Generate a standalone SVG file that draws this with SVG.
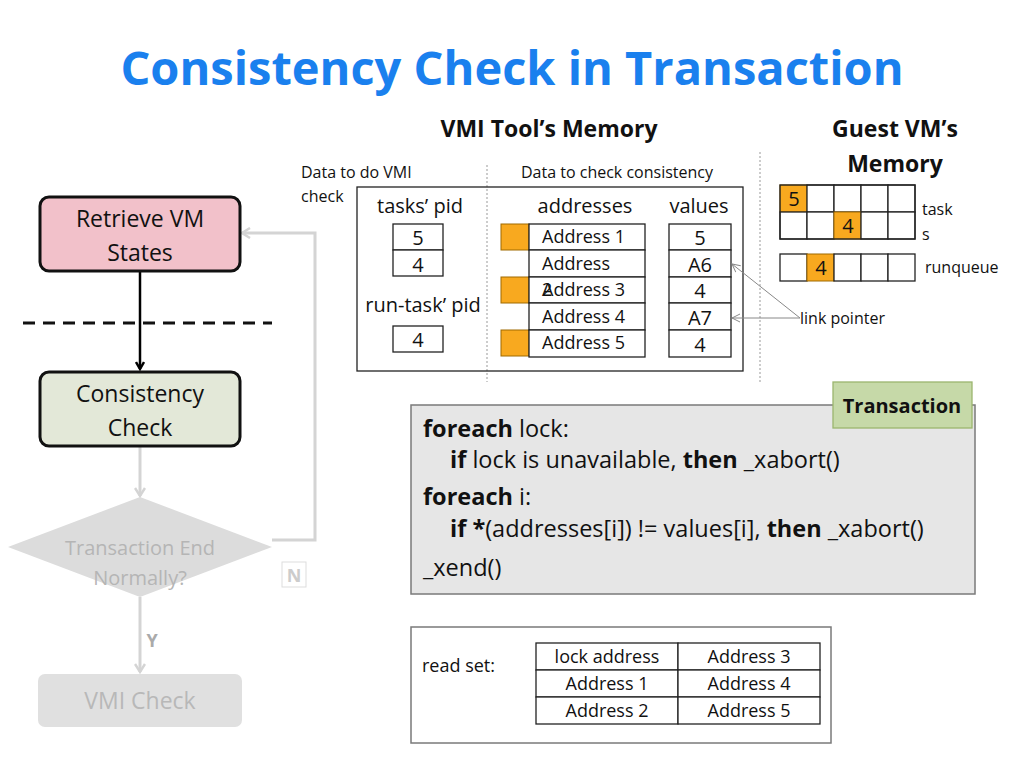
<svg xmlns="http://www.w3.org/2000/svg" width="1024" height="768" viewBox="0 0 1024 768">
<style>
text{font-family:"Open Sans","Liberation Sans",sans-serif;fill:#111}
.c{text-anchor:middle}
.cell{fill:#fff;stroke:#222;stroke-width:1.3}
.or{fill:#f8a91f;stroke:#a06a00;stroke-width:1}
.b{font-weight:bold}
.t18{font-size:18px}.t20{font-size:20px}.t22{font-size:22px}.t16{font-size:16px}.code{font-size:23.5px}
</style>
<defs>
<marker id="ab" markerWidth="10" markerHeight="10" refX="8" refY="5" orient="auto" markerUnits="userSpaceOnUse"><path d="M1,1 L8,5 L1,9" fill="none" stroke="#000" stroke-width="2.5"/></marker>
<marker id="ag" markerWidth="12" markerHeight="12" refX="9" refY="6" orient="auto" markerUnits="userSpaceOnUse"><path d="M1,1 L9,6 L1,11" fill="none" stroke="#d4d4d4" stroke-width="2.5"/></marker>
<marker id="at" markerWidth="10" markerHeight="10" refX="9" refY="5" orient="auto" markerUnits="userSpaceOnUse"><path d="M1,1 L9,5 L1,9" fill="none" stroke="#888" stroke-width="1"/></marker>
</defs>
<rect width="1024" height="768" fill="#fff"/>
<text x="512" y="85" class="c b" style="font-size:47px;fill:#1a80ee">Consistency Check in Transaction</text>
<text x="549" y="137" class="c b" style="font-size:23px">VMI Tool’s Memory</text>
<text x="895" y="137" class="c b" style="font-size:23px">Guest VM’s</text>
<text x="895" y="172" class="c b" style="font-size:23px">Memory</text>

<g id="vmi-memory">
<line x1="487" y1="165" x2="487" y2="382" stroke="#999" stroke-dasharray="2,2"/>
<line x1="760" y1="152" x2="760" y2="382" stroke="#999" stroke-dasharray="2,2"/>
<text x="301" y="178" class="t16">Data to do VMI</text>
<text x="301" y="202" class="t16">check</text>
<text x="617" y="178" class="c t16">Data to check consistency</text>
<rect x="357" y="187" width="386" height="184" fill="none" stroke="#222" stroke-width="1.3"/>
<text x="420" y="213" class="c t20">tasks’ pid</text>
<rect class="cell" x="393" y="224" width="50" height="26"/><text x="418" y="245" class="c t20">5</text>
<rect class="cell" x="393" y="250" width="50" height="26"/><text x="418" y="272" class="c t20">4</text>
<text x="423" y="312" class="c t20">run-task’ pid</text>
<rect class="cell" x="393" y="326" width="50" height="26"/><text x="418" y="347" class="c t20">4</text>
<text x="585" y="213" class="c t20">addresses</text>
<text x="699" y="213" class="c t20">values</text>
<rect class="or" x="501" y="224" width="28" height="26"/>
<rect class="or" x="501" y="277" width="28" height="26"/>
<rect class="or" x="501" y="330" width="28" height="26"/>
<rect class="cell" x="529" y="224" width="116" height="26"/><text x="542" y="243" class="t18">Address 1</text>
<rect class="cell" x="529" y="250" width="116" height="27"/><text x="542" y="270" class="t18">Address</text>
<rect class="cell" x="529" y="277" width="116" height="26"/><text x="542" y="296" class="t18">Address 3</text><text x="542" y="296" class="t18">2</text>
<rect class="cell" x="529" y="303" width="116" height="27"/><text x="542" y="323" class="t18">Address 4</text>
<rect class="cell" x="529" y="330" width="116" height="27"/><text x="542" y="349" class="t18">Address 5</text>
<rect class="cell" x="669" y="224" width="62" height="26"/><text x="700" y="245" class="c t20">5</text>
<rect class="cell" x="669" y="250" width="62" height="27"/><text x="700" y="272" class="c t20">A6</text>
<rect class="cell" x="669" y="277" width="62" height="26"/><text x="700" y="298" class="c t20">4</text>
<rect class="cell" x="669" y="303" width="62" height="27"/><text x="700" y="325" class="c t20">A7</text>
<rect class="cell" x="669" y="330" width="62" height="27"/><text x="700" y="352" class="c t20">4</text>
</g>

<g id="guest-memory">
<rect class="or" x="780" y="185" width="27" height="27"/>
<rect class="cell" x="807" y="185" width="27" height="27"/><rect class="cell" x="834" y="185" width="27" height="27"/><rect class="cell" x="861" y="185" width="27" height="27"/><rect class="cell" x="888" y="185" width="27" height="27"/>
<rect class="cell" x="780" y="212" width="27" height="27"/><rect class="cell" x="807" y="212" width="27" height="27"/>
<rect class="or" x="834" y="212" width="27" height="27"/>
<rect class="cell" x="861" y="212" width="27" height="27"/><rect class="cell" x="888" y="212" width="27" height="27"/>
<rect x="780" y="185" width="135" height="54" fill="none" stroke="#222" stroke-width="1.3"/>
<text x="794" y="206" class="c t20">5</text><text x="848" y="233" class="c t20">4</text>
<text x="922" y="215" class="t16">task</text><text x="922" y="240" class="t16">s</text>
<rect class="cell" x="780" y="254" width="27" height="27"/>
<rect class="or" x="807" y="254" width="27" height="27"/>
<rect class="cell" x="834" y="254" width="27" height="27"/><rect class="cell" x="861" y="254" width="27" height="27"/><rect class="cell" x="888" y="254" width="27" height="27"/>
<text x="821" y="275" class="c t20">4</text>
<text x="925" y="273" class="t16">runqueue</text>
<text x="800" y="324" class="t16">link pointer</text>
</g>

<g id="connectors">
<line x1="800" y1="318" x2="732" y2="264" stroke="#888" marker-end="url(#at)"/>
<line x1="800" y1="318" x2="732" y2="318" stroke="#888" marker-end="url(#at)"/>
<line x1="140" y1="271" x2="140" y2="369" stroke="#000" stroke-width="2.5" marker-end="url(#ab)"/>
<line x1="140" y1="446" x2="140" y2="496" stroke="#d4d4d4" stroke-width="3" marker-end="url(#ag)"/>
<line x1="140" y1="597" x2="140" y2="672" stroke="#d4d4d4" stroke-width="3" marker-end="url(#ag)"/>
<polyline points="272,540 315,540 315,233 242,233" fill="none" stroke="#d4d4d4" stroke-width="3" marker-end="url(#ag)"/>
</g>

<line x1="23" y1="323" x2="272" y2="323" stroke="#111" stroke-width="3" stroke-dasharray="12,8"/>

<g id="retrieve">
<rect x="40" y="197" width="200" height="74" rx="9" fill="#f2c1ca" stroke="#111" stroke-width="3"/>
<text x="140" y="227" class="c" style="font-size:23px">Retrieve VM</text><text x="140" y="261" class="c" style="font-size:23px">States</text>
</g>
<g id="consistency">
<rect x="40" y="372" width="200" height="74" rx="9" fill="#e3e8d8" stroke="#111" stroke-width="3"/>
<text x="140" y="402" class="c" style="font-size:23px">Consistency</text><text x="140" y="436" class="c" style="font-size:23px">Check</text>
</g>
<g id="decision">
<polygon points="140,497 272,547 140,597 8,547" fill="#dcdcdc"/>
<text x="140" y="555" class="c t20" style="fill:#b5b5b5">Transaction End</text>
<text x="140" y="585" class="c t20" style="fill:#b5b5b5">Normally?</text>
<rect x="282" y="562" width="24" height="25" fill="#fff" stroke="#ddd"/>
<text x="294" y="582" class="c t18 b" style="fill:#ccc">N</text>
<text x="152" y="647" class="c t18 b" style="fill:#aaa">Y</text>
</g>
<g id="vmicheck">
<rect x="38" y="674" width="204" height="53" rx="7" fill="#e0e0e0"/>
<text x="140" y="709" class="c" style="font-size:23px;fill:#b8b8b8">VMI Check</text>
</g>

<g id="transaction">
<rect x="411" y="405" width="564" height="189" fill="#e6e6e6" stroke="#7a7a7a" stroke-width="1.5"/>
<text x="423" y="437" class="code"><tspan class="b">foreach</tspan> lock:</text>
<text x="450" y="468" class="code"><tspan class="b">if</tspan> lock is unavailable, <tspan class="b">then</tspan>  _xabort()</text>
<text x="423" y="505" class="code"><tspan class="b">foreach</tspan> i:</text>
<text x="450" y="537" class="code"><tspan class="b">if *</tspan>(addresses[i]) != values[i], <tspan class="b">then</tspan> _xabort()</text>
<text x="423" y="576" class="code">_xend()</text>
<rect x="833" y="382" width="139" height="46" fill="#c6d9a8" stroke="#9bb56e" stroke-width="1.3"/>
<text x="902" y="413" class="c t20 b">Transaction</text>
</g>

<g id="readset">
<rect x="411" y="627" width="420" height="116" fill="#fff" stroke="#7a7a7a" stroke-width="1.5"/>
<text x="422" y="672" class="t18">read set:</text>
<rect class="cell" x="536" y="643" width="142" height="27"/><text x="607" y="663" class="c t18">lock address</text>
<rect class="cell" x="536" y="670" width="142" height="27"/><text x="607" y="690" class="c t18">Address 1</text>
<rect class="cell" x="536" y="697" width="142" height="27"/><text x="607" y="717" class="c t18">Address 2</text>
<rect class="cell" x="678" y="643" width="142" height="27"/><text x="749" y="663" class="c t18">Address 3</text>
<rect class="cell" x="678" y="670" width="142" height="27"/><text x="749" y="690" class="c t18">Address 4</text>
<rect class="cell" x="678" y="697" width="142" height="27"/><text x="749" y="717" class="c t18">Address 5</text>
</g>
</svg>
